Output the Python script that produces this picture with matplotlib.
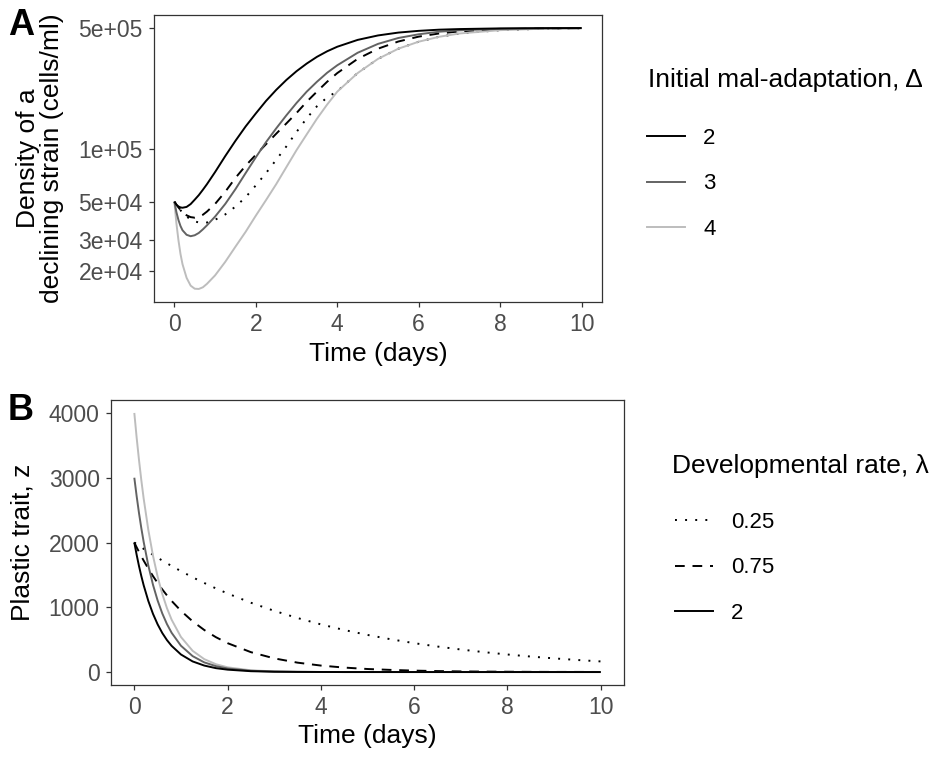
import matplotlib
matplotlib.use('Agg')
import matplotlib.pyplot as plt
from matplotlib.lines import Line2D
import numpy as np

plt.rcParams['font.family'] = ['Liberation Sans', 'DejaVu Sans']

# ---------------- Panel A data: density of a declining strain (cells/ml) ----------------
time_a = [0, 0.05, 0.1, 0.15, 0.2, 0.3, 0.4, 0.5, 0.6, 0.7, 0.8, 1.0, 1.25, 1.5, 1.75,
          2.0, 2.25, 2.5, 2.75, 3.0, 3.25, 3.5, 3.75, 4.0, 4.5, 5.0, 5.5, 6.0, 6.5, 7.0,
          8.0, 9.0, 10.0]
dens_d2_l2 = [50000, 48000, 46900, 46300, 46100, 46600, 48400, 51300, 54500, 58500, 63000,
              74000, 91500, 112000, 135500, 161000, 190000, 220000, 251000, 282000, 312000,
              341000, 367000, 390000, 427000, 453000, 470500, 481500, 489000, 493000,
              497400, 499000, 499700]
dens_d3_l2 = [50000, 43500, 39200, 36200, 34200, 32200, 31600, 32000, 33000, 34600, 36500,
              41000, 48500, 59000, 73000, 90000, 110000, 132000, 157000, 185000, 215000,
              245000, 276000, 305000, 360000, 405000, 438000, 460000, 476000, 485000,
              494500, 498000, 499300]
dens_d4_l2 = [50000, 37500, 30000, 25000, 21800, 18200, 16400, 15750, 15700, 16050, 16800,
              18800, 22500, 27500, 33500, 41500, 51000, 63000, 79000, 99000, 122000,
              150000, 181000, 215000, 275000, 332000, 380000, 417000, 445000, 465000,
              486000, 495000, 498500]
dens_d2_l075 = [50000, 48000, 46300, 44800, 43500, 41700, 40700, 40400, 40900, 42000, 43800,
                48500, 57000, 68500, 80500, 93000, 107000, 123000, 141000, 162000, 188000,
                215000, 245000, 275000, 332000, 380000, 418000, 446000, 465000, 478000,
                491500, 497000, 499000]
dens_d2_l025 = [50000, 48000, 46200, 44600, 43200, 41000, 39500, 38500, 37900, 37700, 37900,
                39300, 42200, 46800, 53000, 62000, 73000, 87000, 104000, 126000, 151000,
                177000, 199000, 216000, 275000, 332000, 380000, 417000, 445000, 465000,
                486000, 495000, 498500]

# ---------------- Panel B data: plastic trait z ----------------
time_b = [0, 0.05, 0.1, 0.15, 0.2, 0.3, 0.4, 0.5, 0.6, 0.7, 0.8, 1.0, 1.25, 1.5, 1.75, 2.0,
          2.5, 3.0, 3.5, 4.0, 4.5, 5.0, 5.5, 6.0, 6.5, 7.0, 7.5, 8.0, 8.5, 9.0, 9.5, 10.0]
z_d2_l2 = [2000, 1810, 1637, 1482, 1341, 1098, 899, 736, 602, 493, 404, 271, 164, 100, 60, 37,
           13, 5, 2, 1, 0, 0, 0, 0, 0, 0, 0, 0, 0, 0, 0, 0]
z_d3_l2 = [3000, 2715, 2456, 2222, 2011, 1646, 1348, 1104, 904, 740, 606, 406, 246, 149, 91, 55,
           20, 7, 3, 1, 0, 0, 0, 0, 0, 0, 0, 0, 0, 0, 0, 0]
z_d4_l2 = [4000, 3619, 3275, 2963, 2681, 2195, 1797, 1472, 1205, 986, 808, 541, 328, 199, 121, 73,
           27, 10, 4, 1, 0, 0, 0, 0, 0, 0, 0, 0, 0, 0, 0, 0]
z_d2_l075 = [2000, 1926, 1855, 1787, 1721, 1597, 1482, 1375, 1275, 1183, 1098, 945, 783, 649, 538,
             446, 307, 211, 145, 100, 69, 47, 33, 22, 15, 10, 7, 5, 3, 2, 2, 1]
z_d2_l025 = [2000, 1975, 1951, 1926, 1902, 1856, 1810, 1765, 1721, 1679, 1637, 1558, 1463, 1375,
             1291, 1213, 1070, 945, 834, 736, 649, 573, 506, 446, 394, 348, 307, 271, 239, 211,
             186, 164]

delta_levels = ['2', '3', '4']
delta_colors = ['#000000', '#636363', '#BDBDBD']
lambda_levels = ['0.25', '0.75', '2']
lambda_styles = [(0, (1, 4.2)), (0, (5, 4)), '-']

A_yticks = [2e4, 3e4, 5e4, 1e5, 5e5]
A_yticklabels = ['2e+04', '3e+04', '5e+04', '1e+05', '5e+05']
B_yticks = [0, 1000, 2000, 3000, 4000]
x_ticks = [0, 2, 4, 6, 8, 10]

# drawing order: dotted, dashed, light grey, dark grey, black
series = [
    (dens_d2_l025, z_d2_l025, delta_colors[0], lambda_styles[0]),
    (dens_d2_l075, z_d2_l075, delta_colors[0], lambda_styles[1]),
    (dens_d4_l2, z_d4_l2, delta_colors[2], lambda_styles[2]),
    (dens_d3_l2, z_d3_l2, delta_colors[1], lambda_styles[2]),
    (dens_d2_l2, z_d2_l2, delta_colors[0], lambda_styles[2]),
]

W, H = 935, 758
fig = plt.figure(figsize=(W / 100, H / 100), dpi=100)

def px_axes(l, t, r, b):
    return fig.add_axes([l / W, 1 - b / H, (r - l) / W, (b - t) / H])

axA = px_axes(154, 15, 602, 302)
axB = px_axes(111, 400, 624, 685)

LW = 1.4
for dens, z, col, ls in series:
    axA.plot(time_a, dens, color=col, linestyle=ls, lw=LW, solid_capstyle='butt')
    axB.plot(time_b, z, color=col, linestyle=ls, lw=LW, solid_capstyle='butt')

axA.set_yscale('log')
all_dens = np.concatenate([dens_d2_l2, dens_d3_l2, dens_d4_l2, dens_d2_l075, dens_d2_l025])
lo, hi = np.log10(all_dens.min()), np.log10(all_dens.max())
pad = 0.05 * (hi - lo)
axA.set_ylim(10 ** (lo - pad), 10 ** (hi + pad))
axA.set_yticks(A_yticks)
axA.set_yticklabels(A_yticklabels)
axA.yaxis.set_minor_locator(matplotlib.ticker.NullLocator())

allz = np.concatenate([z_d2_l2, z_d3_l2, z_d4_l2, z_d2_l075, z_d2_l025])
zpad = 0.05 * (allz.max() - allz.min())
axB.set_ylim(allz.min() - zpad, allz.max() + zpad)
axB.set_yticks(B_yticks)

TICK_FS = 16.5
TITLE_FS = 19
for ax in (axA, axB):
    ax.set_xlim(-0.5, 10.5)
    ax.set_xticks(x_ticks)
    for sp in ax.spines.values():
        sp.set_color('#333333')
        sp.set_linewidth(0.9)
    ax.tick_params(axis='both', which='major', length=3.6, width=0.9, color='#333333',
                   labelcolor='#4D4D4D', labelsize=TICK_FS, pad=4.5)
    ax.set_xlabel('Time (days)', fontsize=TITLE_FS, color='black')

# two-line y title of panel A, each line as its own rotated text
yc_A = 1 - (15 + 302) / 2 / H
fig.text(28 / W, yc_A, 'Density of a', fontsize=TITLE_FS, rotation=90,
         va='center', ha='center')
fig.text(52 / W, yc_A, 'declining strain (cells/ml)', fontsize=TITLE_FS, rotation=90,
         va='center', ha='center')
axA.xaxis.set_label_coords(0.5, (302 - 342) / 287)
axB.set_ylabel('Plastic trait, z', fontsize=TITLE_FS)
axB.yaxis.set_label_coords((35 - 111) / 513, 0.5)
axB.xaxis.set_label_coords(0.5, (685 - 724) / 285)

fig.text(8 / W, 1 - 8 / H, 'A', fontsize=26, fontweight='bold', va='top', ha='left')
fig.text(8 / W, 1 - 393 / H, 'B', fontsize=26, fontweight='bold', va='top', ha='left')

LEG_FS = 16
# legend A
fig.text(648 / W, 1 - 80 / H, 'Initial mal-adaptation, \u0394', fontsize=TITLE_FS,
         va='center', ha='left')
hA = [Line2D([], [], color=c, lw=LW) for c in delta_colors]
fig.legend(hA, delta_levels, loc='upper left',
           bbox_to_anchor=(647 / W, 1 - 128 / H), frameon=False, fontsize=LEG_FS,
           handlelength=1.73, handletextpad=0.8, labelspacing=1.1,
           borderpad=0, borderaxespad=0)
# legend B
fig.text(672 / W, 1 - 466 / H, 'Developmental rate, \u03bb', fontsize=TITLE_FS,
         va='center', ha='left')
hB = [Line2D([], [], color='black', lw=LW, linestyle=s) for s in lambda_styles]
fig.legend(hB, lambda_levels, loc='upper left',
           bbox_to_anchor=(675 / W, 1 - 512 / H), frameon=False, fontsize=LEG_FS,
           handlelength=1.73, handletextpad=0.8, labelspacing=1.1,
           borderpad=0, borderaxespad=0)

fig.savefig('out.png', dpi=100)
